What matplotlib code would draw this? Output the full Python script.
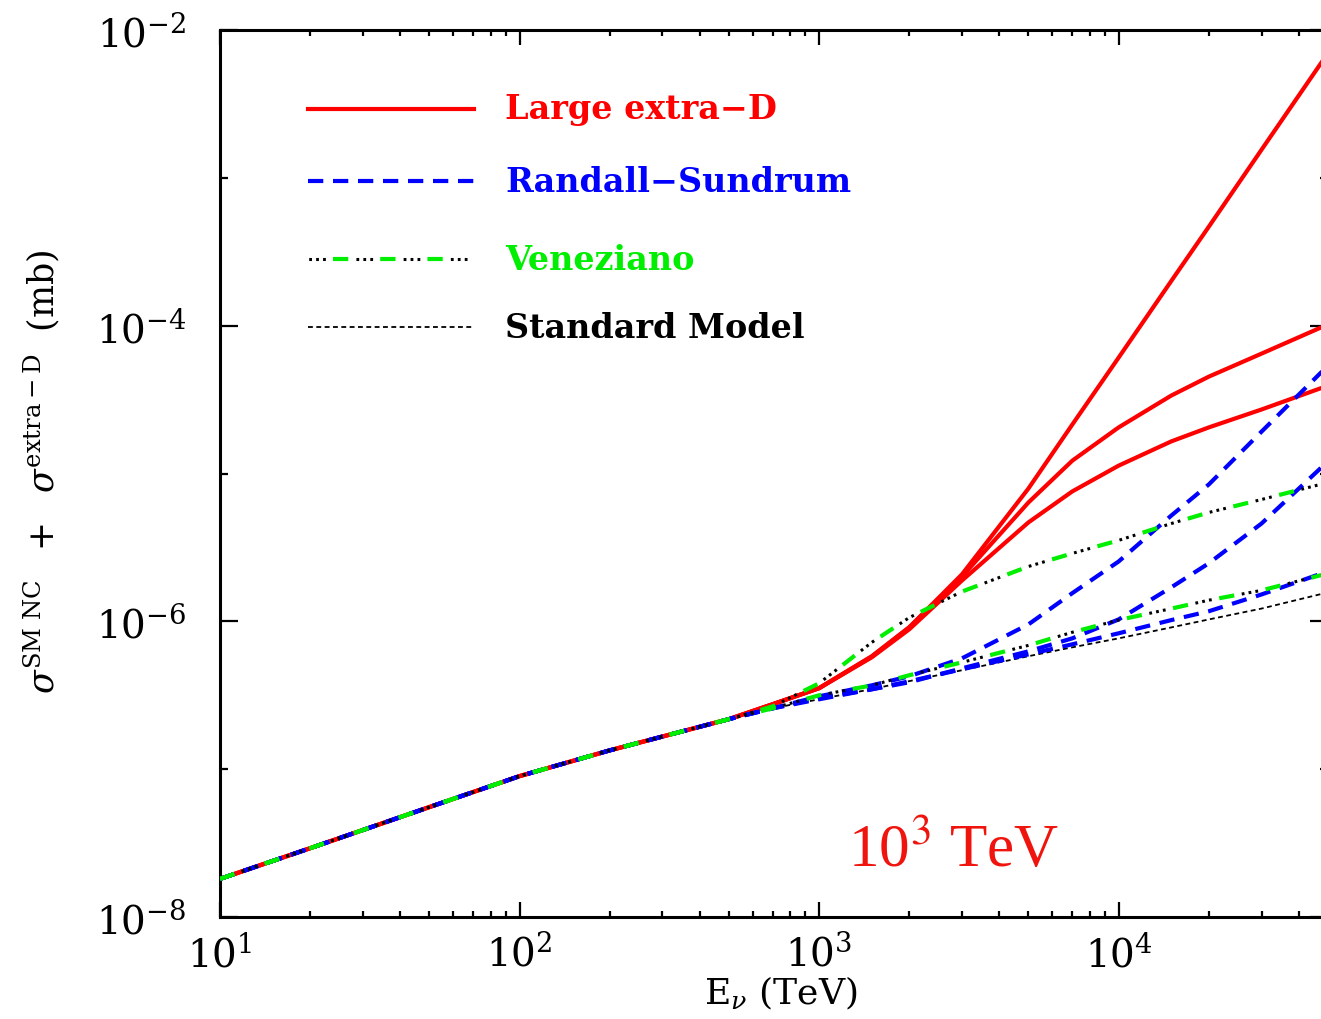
import numpy as np
import matplotlib
matplotlib.use('Agg')
import matplotlib.pyplot as plt
from matplotlib.ticker import FixedLocator, FuncFormatter, LogLocator, NullFormatter

plt.rcParams['font.family'] = 'DejaVu Serif'
plt.rcParams['mathtext.fontset'] = 'dejavuserif'
plt.rcParams['lines.scale_dashes'] = False

# neutrino energy E_nu (TeV)
energy = [10, 20, 50, 100, 200, 500, 700, 1000, 1500, 2000, 3000,
          5000, 7000, 10000, 15000, 20000, 30000, 50000]

# standard model NC cross section (mb)
sigma_sm = [1.81e-8, 2.92e-8, 5.54e-8, 8.97e-8, 1.34e-7, 2.18e-7, 2.58e-7,
            2.97e-7, 3.48e-7, 3.94e-7, 4.67e-7, 5.81e-7, 6.67e-7, 7.67e-7,
            9.10e-7, 1.03e-6, 1.22e-6, 1.57e-6]

# SM + extra-D, from 700 TeV on (below that they sit on the SM curve)
led_1 = [2.75e-7, 3.53e-7, 5.80e-7, 9.11e-7, 2.08e-6, 7.92e-6, 2.14e-5,
         6.08e-5, 2.01e-4, 4.67e-4, 1.55e-3, 6.99e-3]
led_2 = [2.75e-7, 3.53e-7, 5.80e-7, 9.11e-7, 2.01e-6, 6.37e-6, 1.22e-5,
         2.05e-5, 3.37e-5, 4.52e-5, 6.47e-5, 1.02e-4]
led_3 = [2.75e-7, 3.53e-7, 5.71e-7, 8.83e-7, 1.89e-6, 4.67e-6, 7.56e-6,
         1.13e-5, 1.65e-5, 2.05e-5, 2.71e-5, 3.93e-5]
rs_1 = [2.58e-7, 3.11e-7, 3.69e-7, 4.25e-7, 5.62e-7, 9.54e-7, 1.55e-6,
        2.54e-6, 5.20e-6, 8.43e-6, 1.92e-5, 5.37e-5]
rs_2 = [2.58e-7, 3.02e-7, 3.47e-7, 3.87e-7, 4.81e-7, 6.27e-7, 7.67e-7,
        1.03e-6, 1.70e-6, 2.47e-6, 4.59e-6, 1.21e-5]
rs_3 = [2.58e-7, 2.97e-7, 3.47e-7, 3.93e-7, 4.74e-7, 5.98e-7, 6.99e-7,
        8.30e-7, 1.02e-6, 1.17e-6, 1.52e-6, 2.18e-6]
ven_1 = [2.66e-7, 3.81e-7, 7.21e-7, 1.06e-6, 1.59e-6, 2.35e-6, 2.88e-6,
         3.53e-6, 4.59e-6, 5.45e-6, 6.67e-6, 8.70e-6]
ven_2 = [2.58e-7, 3.16e-7, 3.69e-7, 4.32e-7, 5.28e-7, 6.88e-7, 8.43e-7,
         1.02e-6, 1.22e-6, 1.39e-6, 1.62e-6, 2.11e-6]

legend_labels = ['Large extra\u2212D', 'Randall\u2212Sundrum', 'Veneziano', 'Standard Model']

RED = '#ff0000'
BLUE = '#0000ff'
GREEN = '#00ee00'

# styles (dash lengths in points, not scaled by line width)
sty_led = dict(color=RED, lw=3.0, ls='-')
sty_rs = dict(color=BLUE, lw=3.0, ls=(0, (11, 7)))
sty_sm = dict(color='black', lw=1.3, ls=(0, (3.5, 2.5)))
sty_ven_dot = dict(color='black', lw=2.2, ls=(17.5, (2, 3, 2, 3, 2, 22)))
sty_ven_dash = dict(color=GREEN, lw=3.0, ls=(0, (11, 23)))

n_low = len(energy) - len(led_1)


def full(curve):
    return sigma_sm[:n_low] + curve


fig = plt.figure(figsize=(13.21, 10.20), dpi=100)
ax = fig.add_axes([220 / 1321, 1 - 918 / 1020, (1328 - 220) / 1321, (918 - 31) / 1020])

ax.plot(energy, sigma_sm, zorder=2, **sty_sm)
for c in (led_1, led_2, led_3):
    ax.plot(energy, full(c), zorder=3, **sty_led)
for c in (rs_1, rs_2, rs_3):
    ax.plot(energy, full(c), zorder=4, **sty_rs)
for c in (ven_1, ven_2):
    ax.plot(energy, full(c), zorder=5, **sty_ven_dot)
    ax.plot(energy, full(c), zorder=5, **sty_ven_dash)

ax.set_xscale('log')
ax.set_yscale('log')
ax.set_xlim(10, 5e4)
ax.set_ylim(1e-8, 1e-2)

ax.xaxis.set_major_locator(LogLocator(base=10))
ax.xaxis.set_minor_locator(LogLocator(base=10, subs=np.arange(2, 10)))
ax.yaxis.set_major_locator(FixedLocator([1e-8, 1e-6, 1e-4, 1e-2]))
ax.yaxis.set_minor_locator(FixedLocator([1e-7, 1e-5, 1e-3]))
fmt = FuncFormatter(lambda v, p: r'$10^{%d}$' % round(np.log10(v)))
ax.xaxis.set_major_formatter(fmt)
ax.yaxis.set_major_formatter(fmt)
ax.xaxis.set_minor_formatter(NullFormatter())
ax.yaxis.set_minor_formatter(NullFormatter())

ax.tick_params(which='both', direction='in', top=True, right=True, width=1.6, labelsize=28)
ax.tick_params(axis='x', which='major', length=11, pad=12)
ax.tick_params(axis='x', which='minor', length=4)
ax.tick_params(axis='y', which='major', length=13, pad=24)
ax.tick_params(axis='y', which='minor', length=6)
for s in ax.spines.values():
    s.set_linewidth(2.2)

ax.set_xlabel(r'E$_\nu$ (TeV)', fontsize=26)
ax.xaxis.set_label_coords((781 - 220) / 1108, (918 - 975) / 887)
ax.set_ylabel(r'$\sigma^{\mathrm{SM\ NC}}\ \ +\ \ \sigma^{\mathrm{extra-D}}\ \ (\mathrm{mb})$', fontsize=25)
ax.yaxis.set_label_coords((62 - 220) / 1108, (918 - 472) / 887)


# legend, drawn by hand in axes coordinates
def ax_x(px):
    return (px - 220) / 1108


def ax_y(py):
    return (918 - py) / 887


leg_ven_dot = dict(sty_ven_dot, ls=(33.5, (2, 3, 2, 3, 2, 22)))
leg_ven_dash = dict(sty_ven_dash, ls=(16, (11, 23)))
rows = [(110, [sty_led], RED), (182, [sty_rs], BLUE),
        (260, [leg_ven_dot, leg_ven_dash], GREEN), (328, [sty_sm], 'black')]
for (yc, styles, col), lab in zip(rows, legend_labels):
    for st in styles:
        ax.plot([ax_x(308), ax_x(474)], [ax_y(yc), ax_y(yc)], transform=ax.transAxes,
                clip_on=False, **st)
    ax.text(ax_x(505), ax_y(yc), lab, transform=ax.transAxes, color=col,
            fontsize=24, fontweight='bold', ha='left', va='center')

fig.text(848 / 1321, 1 - 867 / 1020, r'10$^{3}$ TeV', color='#f0140e', fontsize=44,
         family='Liberation Serif', math_fontfamily='stix', ha='left', va='baseline')

fig.savefig('out.png', dpi=100)
